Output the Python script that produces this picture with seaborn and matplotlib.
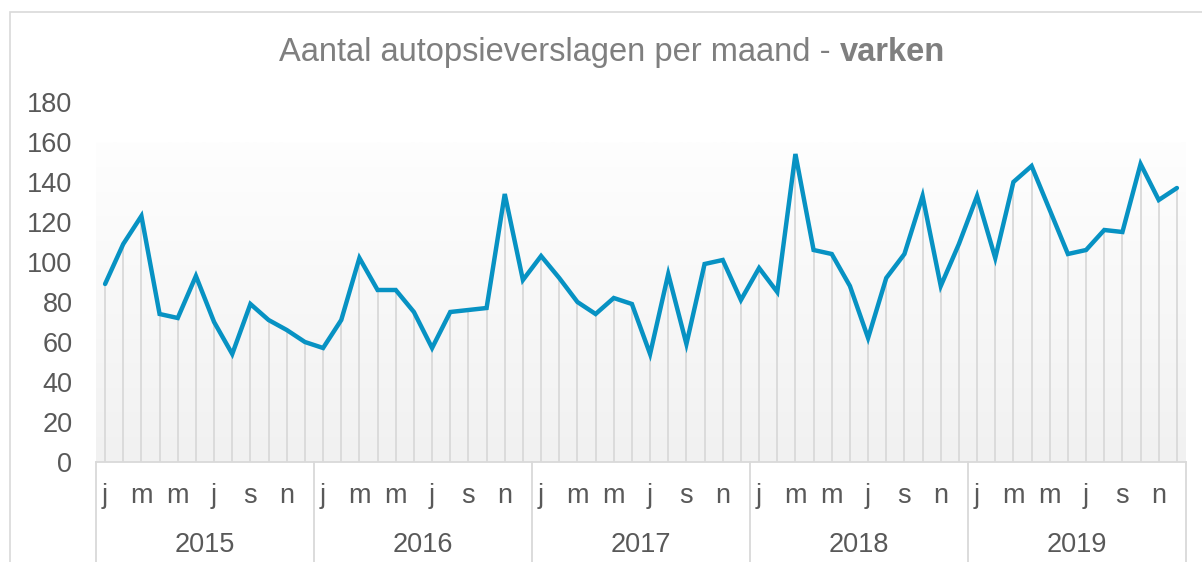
import numpy as np
import pandas as pd
import matplotlib
matplotlib.use("Agg")
import matplotlib.pyplot as plt
import matplotlib.transforms as mtransforms
from matplotlib.patches import Rectangle
from matplotlib.colors import LinearSegmentedColormap
import seaborn as sns

# ---------------- data ----------------
years = ["2015", "2016", "2017", "2018", "2019"]
month_letters = ["j", "f", "m", "a", "m", "j", "j", "a", "s", "o", "n", "d"]
values_2015 = [89, 109, 123, 74, 72, 93, 70, 54, 79, 71, 66, 60]
values_2016 = [57, 71, 102, 86, 86, 75, 57, 75, 76, 77, 134, 91]
values_2017 = [103, 92, 80, 74, 82, 79, 54, 94, 59, 99, 101, 81]
values_2018 = [97, 85, 154, 106, 104, 88, 62, 92, 104, 133, 88, 109]
values_2019 = [133, 102, 140, 148, 126, 104, 106, 116, 115, 149, 131, 137]
y_ticks = [0, 20, 40, 60, 80, 100, 120, 140, 160, 180]
title_plain = "Aantal autopsieverslagen per maand - "
title_bold = "varken"

counts = values_2015 + values_2016 + values_2017 + values_2018 + values_2019
df = pd.DataFrame({
    "idx": np.arange(len(counts)),
    "year": np.repeat(years, 12),
    "month": month_letters * len(years),
    "count": counts,
})

# ---------------- style ----------------
sns.set_theme(style="white")
plt.rcParams["font.family"] = ["Liberation Sans", "DejaVu Sans"]

W, H = 1202, 562
fig = plt.figure(figsize=(W / 100, H / 100), dpi=100)
fig.patch.set_facecolor("white")
ax = fig.add_axes([96 / W, 100 / H, 1090 / W, 360 / H])

text_col = "#595959"
grid_col = "#d9d9d9"
line_col = "#0792c3"
lab_fs = 19.5

# gradient background 0..160
cmap = LinearSegmentedColormap.from_list("bg", ["#f1f1f1", "#fefefe"])
grad = np.linspace(0, 1, 256)[:, None]
ax.imshow(grad, extent=(-0.5, len(counts) - 0.5, 0, 160), cmap=cmap,
          aspect="auto", origin="lower", zorder=0, interpolation="bilinear")

# drop lines
ax.vlines(df["idx"], 0, df["count"], color=grid_col, lw=1.3, zorder=1)

# main line
sns.lineplot(data=df, x="idx", y="count", color=line_col, lw=3.2, ax=ax,
             zorder=3, solid_joinstyle="miter")

ax.set_xlim(-0.5, len(counts) - 0.5)
ax.set_ylim(0, 180)
ax.set_facecolor("white")
ax.set_xlabel("")
ax.set_ylabel("")

for s in ["top", "right", "left"]:
    ax.spines[s].set_visible(False)
ax.spines["bottom"].set_color(grid_col)
ax.spines["bottom"].set_linewidth(1.3)

ax.set_yticks(y_ticks)
ax.set_yticklabels([str(v) for v in y_ticks])
ax.tick_params(axis="y", length=0, pad=17, labelsize=lab_fs, labelcolor=text_col)
ax.set_xticks([])

# category axis: months and years
trans = mtransforms.blended_transform_factory(ax.transData, ax.transAxes)
for i, row in df.iterrows():
    if i % 2 == 0:
        ax.text(row["idx"], -41 / 360, row["month"], transform=trans,
                ha="center", va="baseline", fontsize=lab_fs, color=text_col)
for k, yr in enumerate(years):
    ax.text(12 * k + 5.5, -90 / 360, yr, transform=trans,
            ha="center", va="baseline", fontsize=lab_fs, color=text_col)
for k in range(len(years) + 1):
    ax.plot([12 * k - 0.5, 12 * k - 0.5], [0, -100 / 360], transform=trans,
            color=grid_col, lw=1.3, clip_on=False, zorder=2)

# chart frame
fig.patches.append(Rectangle((10 / W, -0.05), 1.2, 550 / H + 0.05,
                             transform=fig.transFigure, fill=False,
                             ec=grid_col, lw=1.2))

# title: plain + bold
title_col = "#7f7f7f"
title_fs = 23.5
t1 = fig.text(0, (H - 61) / H, title_plain, fontsize=title_fs, color=title_col,
              ha="left", va="baseline")
t2 = fig.text(0, (H - 61) / H, title_bold, fontsize=title_fs, color=title_col,
              fontweight="bold", ha="left", va="baseline")
fig.canvas.draw()
r = fig.canvas.get_renderer()
w1 = t1.get_window_extent(r).width
w2 = t2.get_window_extent(r).width
x0 = 612 - (w1 + w2) / 2
t1.set_x(x0 / W)
t2.set_x((x0 + w1) / W)

fig.savefig("out.png", dpi=100, facecolor="white")
